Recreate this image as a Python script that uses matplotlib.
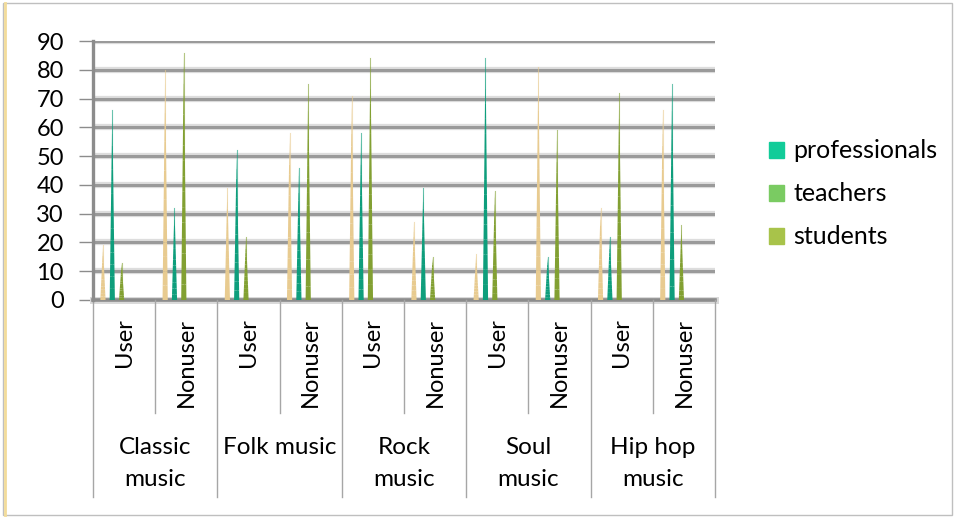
import matplotlib.pyplot as plt
import matplotlib.patches as mpatches
from matplotlib.transforms import blended_transform_factory
import numpy as np

plt.rcParams['font.family'] = ['Lato', 'DejaVu Sans']

# Data
groups = ["Classic\nmusic", "Folk music", "Rock\nmusic", "Soul\nmusic", "Hip hop\nmusic"]
subcats = ["User", "Nonuser"]
series_beige = [19, 80, 39, 58, 71, 27, 16, 81, 32, 66]
series_teal = [66, 32, 52, 46, 58, 39, 84, 15, 22, 75]
series_olive = [13, 86, 22, 75, 84, 15, 38, 59, 72, 26]
legend_labels = ["professionals", "teachers", "students"]

spike_colors = ["#E8CB90", "#0E9E7C", "#82A032"]
legend_colors = ["#12CC99", "#7ACB62", "#A8C34A"]
offsets = [0.16, 0.31, 0.46]
half_w = 0.042

fig = plt.figure(figsize=(9.55, 5.18), dpi=100)
ax = fig.add_axes([93 / 955, 218 / 518, 622 / 955, 259 / 518])


def spike(ax, x, h, color):
    n = 16
    for k in range(n):
        y0, y1 = h * k / n, h * (k + 1) / n
        w0 = half_w * (1 - k / n)
        w1 = half_w * (1 - (k + 1) / n)
        a = 1.0 if k < n * 0.75 else max(0.3, 1 - (k - n * 0.75) / (n * 0.35))
        poly = mpatches.Polygon([[x - w0, y0], [x + w0, y0], [x + w1, y1], [x - w1, y1]],
                                closed=True, facecolor=color, edgecolor='none', alpha=a, zorder=3)
        ax.add_patch(poly)
    # thin core line so the tip stays visible
    ax.plot([x, x], [0, h], color=color, lw=0.8, alpha=0.6, zorder=3)


for vals, off, col in zip([series_beige, series_teal, series_olive], offsets, spike_colors):
    for i, v in enumerate(vals):
        spike(ax, i + off, v, col)

ax.set_xlim(0, 10)
ax.set_ylim(0, 90)
ax.set_yticks(range(0, 91, 10))
ax.set_xticks([])
for y in range(10, 91, 10):
    ax.axhline(y, color='#DDDDDD', lw=4.5, zorder=1)
    ax.axhline(y, color='#9A9A9A', lw=2.2, zorder=1)
ax.axhline(0, color='#D9D9D9', lw=5, zorder=2, clip_on=False)
ax.axhline(0, color='#8C8C8C', lw=2.6, zorder=2, clip_on=False)

for s in ['top', 'right', 'bottom']:
    ax.spines[s].set_visible(False)
ax.spines['left'].set_color('#8C8C8C')
ax.spines['left'].set_linewidth(2.4)
ax.tick_params(axis='y', length=10, width=1, color='#8C8C8C', labelsize=17, pad=11)
ax.set_facecolor('none')

# two-level category axis
tr = blended_transform_factory(ax.transData, ax.transAxes)
for i in range(11):
    bottom = -0.761 if i % 2 == 0 else -0.436
    ax.plot([i, i], [0, bottom], transform=tr, color='#A6A6A6', lw=1, clip_on=False)
for i in range(10):
    ax.text(i + 0.5, -0.07, subcats[i % 2], transform=tr, rotation=90,
            ha='center', va='top', fontsize=17, clip_on=False)
for g, name in enumerate(groups):
    y = -0.633 if "\n" in name else -0.568
    ax.text(2 * g + 1, y, name, transform=tr, ha='center', va='center',
            fontsize=17.5, linespacing=1.65, clip_on=False)

# legend
handles = [mpatches.Patch(color=c, label=l) for c, l in zip(legend_colors, legend_labels)]
fig.legend(handles=handles, loc='center left', bbox_to_anchor=(746 / 955, 1 - 194 / 518),
           frameon=False, fontsize=18, handlelength=0.6, handleheight=0.6,
           handletextpad=0.4, labelspacing=0.8)

# outer frame
fig.add_artist(mpatches.Rectangle((3 / 955, 3 / 518), 949 / 955, 512 / 518,
                                  transform=fig.transFigure, fill=False,
                                  edgecolor='#BFBFBF', lw=1))
fig.add_artist(plt.Line2D([5 / 955, 5 / 955], [3 / 518, 515 / 518],
                          transform=fig.transFigure, color='#F3DC9A', lw=2))

fig.savefig('out.png', dpi=100)
